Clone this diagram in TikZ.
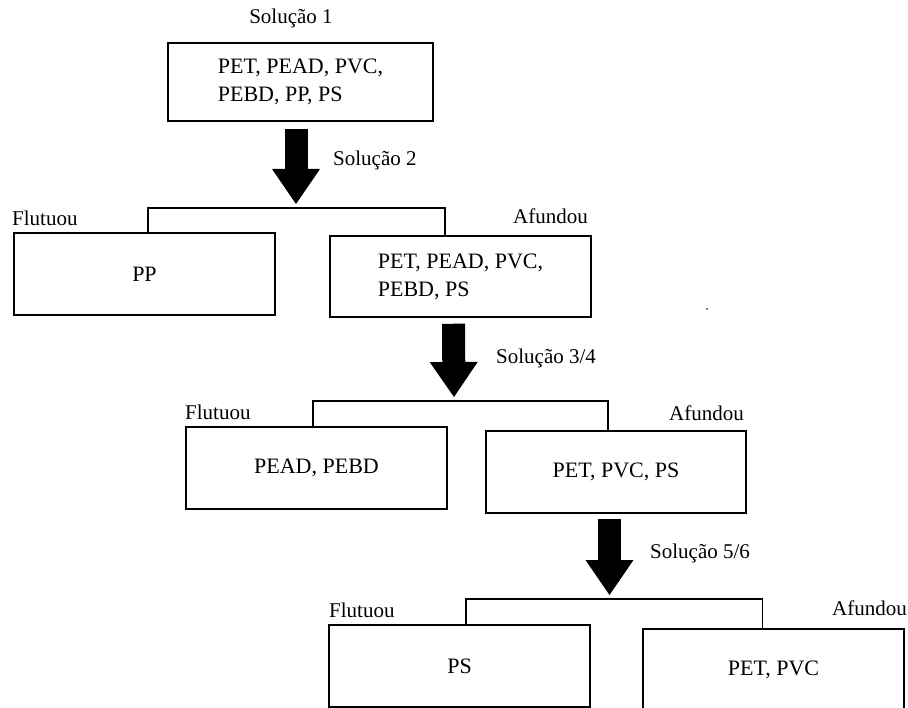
\documentclass[tikz,border=0pt]{standalone}
\usepackage{fontspec}
\setmainfont{Liberation Serif}
\usetikzlibrary{arrows.meta}

\tikzset{
  caixa/.style={draw,line width=1.5pt,minimum width=261pt,minimum height=82pt,
    inner sep=0pt,align=left,font=\fontsize{22}{28}\selectfont},
  rotulo/.style={inner sep=0pt,font=\fontsize{21}{25}\selectfont},
  seta/.style={line width=23pt,-{Triangle[width=48pt,length=35pt,line width=0pt]}},
  chave/.style={line width=1.5pt}
}

\begin{document}
\begin{tikzpicture}[x=1pt,y=-1pt]
  \useasboundingbox (0,0) rectangle (908,708);
  \node[caixa,minimum width=265pt,minimum height=78pt] (mix) at (300.5,82) {PET, PEAD, PVC,\\PEBD, PP, PS};
  \node[rotulo] (sol1) at (291,18) {Solução 1};
  \coordinate (bar1) at (296,208);
  \draw[seta] ([xshift=-4.5pt,yshift=-7pt]mix.south) -- ([yshift=4pt]bar1);
  \node[rotulo,anchor=west] (sol2) at (333,160) {Solução 2};

  \node[caixa] (pp) at (144.5,274) {PP};
  \node[caixa,minimum height=81pt] (rest1) at (460.5,276.5) {PET, PEAD, PVC,\\PEBD, PS};
  \draw[chave] ([xshift=3.5pt]pp.north) |- (bar1) -| ([xshift=-15.5pt]rest1.north);
  \node[rotulo,anchor=west] (flut1) at (12,218) {Flutuou};
  \node[rotulo,anchor=east] (afun1) at (588,216) {Afundou};
  \fill[gray] (706,308) rectangle (708,310);

  \coordinate (bar2) at (454,401);
  \draw[seta] ([xshift=-7pt,yshift=-6pt]rest1.south) -- ([yshift=4pt]bar2);
  \node[rotulo,anchor=west] (sol34) at (496,358) {Solução 3/4};
  \node[caixa] (pead) at (316.5,468) {PEAD, PEBD};
  \node[caixa,minimum width=260pt] (rest2) at (616,472) {PET, PVC, PS};
  \draw[chave] ([xshift=-3.5pt]pead.north) |- (bar2) -| ([xshift=-8pt]rest2.north);
  \node[rotulo,anchor=west] (flut2) at (185,412) {Flutuou};
  \node[rotulo,anchor=east] (afun2) at (744,413) {Afundou};

  \coordinate (bar3) at (609.5,599);
  \draw[seta] ([xshift=-6.5pt,yshift=-5pt]rest2.south) -- ([yshift=4pt]bar3);
  \node[rotulo,anchor=west] (sol56) at (650,553) {Solução 5/6};
  \node[caixa] (ps) at (459.5,666) {PS};
  \node[caixa] (petpvc) at (773.5,670) {PET, PVC};
  \draw[chave] ([xshift=6.5pt]ps.north) |- (bar3) -| ([xshift=-11pt]petpvc.north);
  \node[rotulo,anchor=west] (flut3) at (329,610) {Flutuou};
  \node[rotulo,anchor=east] (afun3) at (907,608) {Afundou};
\end{tikzpicture}
\end{document}
